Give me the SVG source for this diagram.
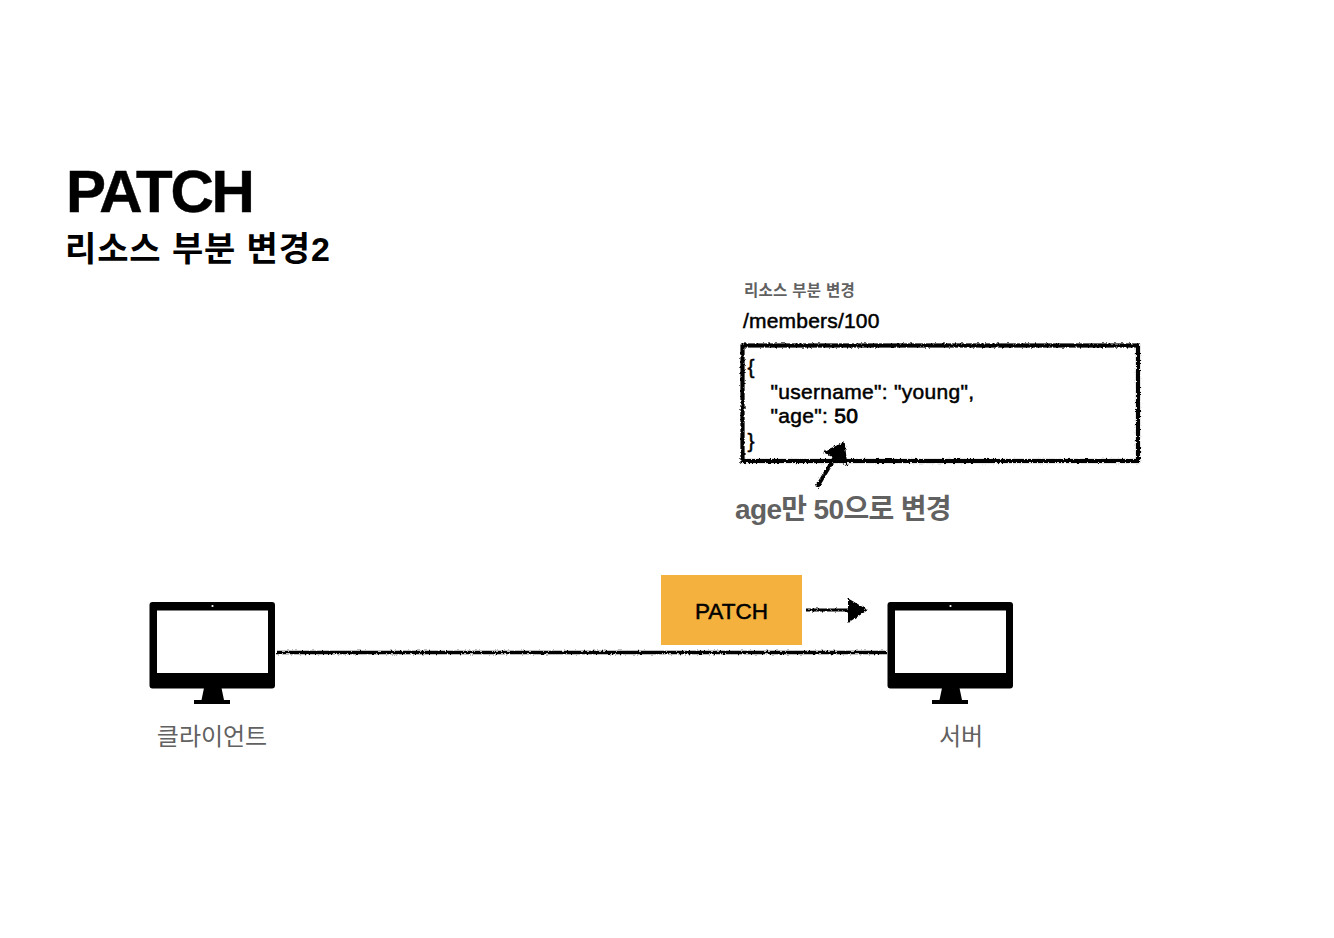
<svg xmlns="http://www.w3.org/2000/svg" width="1334" height="938" viewBox="0 0 1334 938">
<style>
text{font-family:"Liberation Sans","Noto Sans CJK KR",sans-serif;fill:#000}
.b{font-weight:700}
.g{fill:#616161}
.m{font-size:21px;letter-spacing:.3px;stroke:#000;stroke-width:.5px}
.rough{fill:none;stroke:#000;filter:url(#r)}
.fill{fill:#000}
</style>
<defs>
<filter id="r" x="0" y="0" width="1334" height="938" filterUnits="userSpaceOnUse">
<feTurbulence type="fractalNoise" baseFrequency="0.45" numOctaves="2" seed="4"/>
<feDisplacementMap in="SourceGraphic" scale="3.2" xChannelSelector="R" yChannelSelector="G"/>
</filter>
<g id="monitor">
<path fill-rule="evenodd" d="M3 0H122.500Q125.500 0 125.500 3V83.500Q125.500 86.500 122.500 86.500H3Q0 86.500 0 83.500V3Q0 0 3 0ZM7.500 8.500V71H118.500V8.500Z"/>
<circle cx="63" cy="4" r="1.1" fill="#fff"/>
<path d="M54.500 86H72L74.500 98H80.500V102H44.500V98H52Z"/>
</g>
</defs>
<g id="title">
<text class="b" x="66" y="212" font-size="60" letter-spacing="-2.200" stroke="#000" stroke-width=".5">PATCH</text>
<text class="b" x="65" y="261" font-size="34" letter-spacing=".9">리소스 부분 변경2</text>
</g>
<g id="json-block">
<text class="b g" x="744" y="296" font-size="15.500" letter-spacing=".3">리소스 부분 변경</text>
<text class="m" x="743" y="328" style="letter-spacing:.2px">/members/100</text>
<rect class="rough" x="742.500" y="345.500" width="395.500" height="115.500" stroke-width="4.200"/>
<text class="m" x="747.500" y="374">{</text>
<text class="m" x="770.500" y="399">"username": "young",</text>
<text class="m" x="770.500" y="423">"age": <tspan stroke-width=".8">50</tspan></text>
<text class="m" x="747.500" y="448">}</text>
</g>
<g id="note"><text class="b g" x="735" y="518.500" font-size="28" letter-spacing="-.65">age만 50으로 변경</text></g>
<g id="client">
<use href="#monitor" x="149.500" y="602"/>
<text class="g" x="212" y="744.500" font-size="24" text-anchor="middle">클라이언트</text>
</g>
<g id="server">
<use href="#monitor" x="887.500" y="602"/>
<text class="g" x="961" y="744.500" font-size="24" text-anchor="middle">서버</text>
</g>
<g id="patch-label">
<rect x="661" y="575" width="141" height="70" fill="#f4b13d"/>
<text class="m" x="731.500" y="619" text-anchor="middle" style="font-size:22.500px;letter-spacing:0">PATCH</text>
</g>
<g id="connectors">
<path class="rough" d="M276 652.500H887" stroke-width="3.600"/>
<path class="rough" d="M806 610H850" stroke-width="3.200"/>
<path class="rough fill" d="M849 600L866 610L849 621Z" stroke-width="2"/>
<path class="rough" d="M817 487L835 457" stroke-width="4"/>
<path class="rough fill" d="M843 445L845 462L827 452Z" stroke-width="4"/>
</g>
</svg>
